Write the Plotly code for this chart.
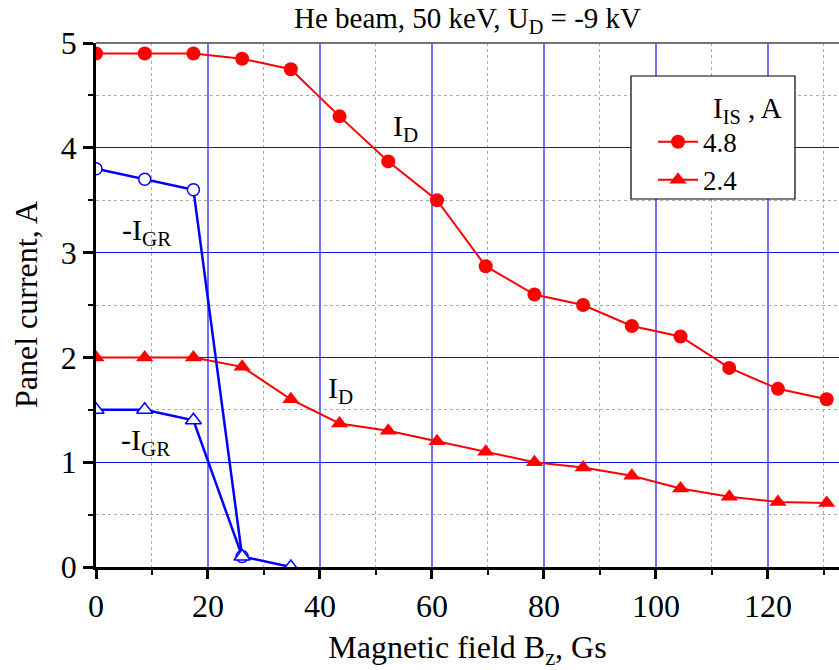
import plotly.graph_objects as go

# ---- data ----
bz = [0, 8.7, 17.4, 26.1, 34.8, 43.5, 52.2, 60.9, 69.6, 78.3, 87.0, 95.7, 104.4, 113.1, 121.8, 130.5]
id_48 = [4.9, 4.9, 4.9, 4.85, 4.75, 4.3, 3.87, 3.5, 2.87, 2.6, 2.5, 2.3, 2.2, 1.9, 1.7, 1.6]
id_24 = [2.0, 2.0, 2.0, 1.91, 1.6, 1.37, 1.3, 1.2, 1.1, 1.0, 0.95, 0.87, 0.75, 0.67, 0.62, 0.61]
igr_48 = [3.8, 3.7, 3.6, 0.1]
igr_24 = [1.5, 1.5, 1.4, 0.1, 0.0]
legend_names = ["4.8", "2.4"]
x_ticks = [0, 20, 40, 60, 80, 100, 120]
y_ticks = [0, 1, 2, 3, 4, 5]

FONT = "Liberation Serif"
RED = "#ff0000"
BLUE = "#0000ff"
FS = 32

fig = go.Figure()

fig.add_trace(go.Scatter(x=bz, y=id_48, mode="lines+markers", name=legend_names[0],
                         line=dict(color=RED, width=2),
                         marker=dict(symbol="circle", size=14, color=RED)))
fig.add_trace(go.Scatter(x=bz, y=id_24, mode="lines+markers", name=legend_names[1],
                         line=dict(color=RED, width=2),
                         marker=dict(symbol="triangle-up", size=15, color=RED)))
fig.add_trace(go.Scatter(x=bz[:len(igr_48)], y=igr_48, mode="lines+markers", showlegend=False,
                         line=dict(color=BLUE, width=2.5),
                         marker=dict(symbol="circle", size=12, color="white",
                                     line=dict(color=BLUE, width=1.5))))
fig.add_trace(go.Scatter(x=bz[:len(igr_24)], y=igr_24, mode="lines+markers", showlegend=False,
                         line=dict(color=BLUE, width=2.5),
                         marker=dict(symbol="triangle-up", size=14, color="white",
                                     line=dict(color=BLUE, width=1.5))))

# text labels
labels = [
    (55.2, 4.19, "I<sub>D</sub>"),
    (43.6, 1.69, "I<sub>D</sub>"),
    (9.1, 3.2, "-I<sub>GR</sub>"),
    (8.9, 1.19, "-I<sub>GR</sub>"),
]
for lx, ly, lt in labels:
    fig.add_annotation(x=lx, y=ly, text=lt, showarrow=False,
                       font=dict(family=FONT, size=30, color="black"))

# y axis title
fig.add_annotation(x=(26 - 96) / 743, y=0.5, xref="paper", yref="paper",
                   text="Panel current, A", textangle=-90, showarrow=False,
                   xanchor="center", yanchor="middle",
                   font=dict(family=FONT, size=FS, color="black"))

# legend frame
fig.add_shape(type="rect", xref="paper", yref="paper",
              x0=(631 - 96) / 743, x1=(795 - 96) / 743,
              y0=(567 - 199) / 524, y1=(567 - 76) / 524,
              fillcolor="white", line=dict(color="black", width=1.2), layer="above")
# top frame line
fig.add_shape(type="line", xref="paper", yref="paper", x0=0, x1=1, y0=1, y1=1,
              line=dict(color="#444444", width=1.5), layer="above")

fig.update_layout(
    width=839, height=670,
    margin=dict(l=96, r=0, t=43, b=103),
    plot_bgcolor="white", paper_bgcolor="white",
    font=dict(family=FONT, size=FS, color="black"),
    title=dict(text="He beam, 50 keV, U<sub>D</sub> = -9 kV", x=0.5, xref="paper",
               xanchor="center", y=1 - 18 / 670, yref="container", yanchor="middle",
               font=dict(family=FONT, size=29, color="black")),
    showlegend=True,
    legend=dict(x=(653 - 96) / 743, y=(567 - 80) / 524, xanchor="left", yanchor="top",
                bgcolor="rgba(0,0,0,0)", borderwidth=0,
                font=dict(family=FONT, size=27, color="black"),
                title=dict(text="        I<sub>IS</sub> , A", side="top",
                           font=dict(family=FONT, size=29, color="black")),
                itemwidth=40, tracegroupgap=0),
)

fig.update_xaxes(
    range=[0, 132.7], tickvals=x_ticks, ticktext=[str(v) for v in x_ticks],
    showline=True, linecolor="black", linewidth=2.5,
    ticks="outside", ticklen=9, tickwidth=2.5, tickcolor="black",
    showgrid=True, gridcolor="#7070ff", gridwidth=2,
    zeroline=False,
    minor=dict(dtick=10, tick0=0, ticks="outside", ticklen=5, tickwidth=2, tickcolor="black",
               showgrid=True, gridcolor="#aaaaaa", gridwidth=1, griddash="dot"),
    title=dict(text="Magnetic field B<sub>z</sub>, Gs", standoff=18,
               font=dict(family=FONT, size=FS, color="black")),
    tickfont=dict(family=FONT, size=FS, color="black"),
)
fig.update_yaxes(
    range=[0, 5], tickvals=y_ticks, ticktext=[str(v) for v in y_ticks],
    showline=True, linecolor="black", linewidth=2.5,
    ticks="outside", ticklen=10, tickwidth=2.5, tickcolor="black",
    showgrid=True, gridcolor="#1010ee", gridwidth=1.3,
    zeroline=False,
    minor=dict(dtick=0.5, tick0=0, ticks="outside", ticklen=5, tickwidth=2, tickcolor="black",
               showgrid=True, gridcolor="#aaaaaa", gridwidth=1, griddash="dot"),
    tickfont=dict(family=FONT, size=FS, color="black"),
)

fig.write_html("out.html")
